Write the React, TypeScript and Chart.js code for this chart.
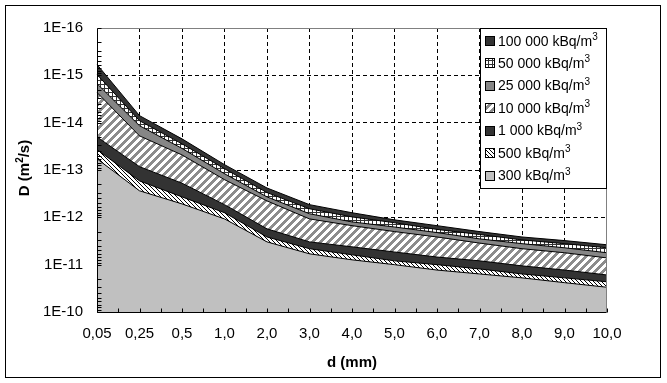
import React, { useEffect, useRef } from 'react';
import { Chart, registerables } from 'chart.js';

Chart.register(...registerables);

const CATEGORIES = ['0,05', '0,25', '0,5', '1,0', '2,0', '3,0', '4,0', '5,0', '6,0', '7,0', '8,0', '9,0', '10,0'];
const Y_TICKS = [1e-16, 1e-15, 1e-14, 1e-13, 1e-12, 1e-11, 1e-10];
const Y_TICK_LABELS = ['1E-16', '1E-15', '1E-14', '1E-13', '1E-12', '1E-11', '1E-10'];
const SERIES_NAMES = ['100 000', '50 000', '25 000', '10 000', '1 000', '500', '300'];
const UNIT = ' kBq/m';
const X_TITLE = 'd (mm)';

const D_100000 = [5.9e-16, 7.1e-15, 2.2e-14, 7.7e-14, 2.4e-13, 5.4e-13, 8.0e-13, 1.13e-12, 1.5e-12, 2.0e-12, 2.6e-12, 3.1e-12, 3.8e-12];
const D_50000 = [9.6e-16, 9.1e-15, 2.8e-14, 9.4e-14, 3.0e-13, 6.6e-13, 9.8e-13, 1.3e-12, 1.8e-12, 2.3e-12, 3.0e-12, 3.6e-12, 4.4e-12];
const D_25000 = [1.5e-15, 1.16e-14, 3.5e-14, 1.2e-13, 3.7e-13, 8.4e-13, 1.25e-12, 1.6e-12, 2.1e-12, 2.85e-12, 3.6e-12, 4.4e-12, 5.6e-12];
const D_10000 = [2.3e-15, 1.9e-14, 4.8e-14, 1.6e-13, 4.5e-13, 1.08e-12, 1.5e-12, 2.0e-12, 2.6e-12, 3.5e-12, 4.6e-12, 5.6e-12, 7.2e-12];
const D_1000 = [2.0e-14, 8.5e-14, 1.9e-13, 5.4e-13, 1.75e-12, 3.3e-12, 4.2e-12, 5.4e-12, 6.9e-12, 8.3e-12, 1.06e-11, 1.3e-11, 1.65e-11];
const D_500 = [3.7e-14, 1.7e-13, 3.7e-13, 8.0e-13, 2.6e-12, 4.6e-12, 6.2e-12, 8.3e-12, 1.0e-11, 1.23e-11, 1.57e-11, 1.9e-11, 2.3e-11];
const D_300 = [5.8e-14, 2.75e-13, 5.2e-13, 1.08e-12, 3.3e-12, 5.9e-12, 7.9e-12, 1.0e-11, 1.3e-11, 1.57e-11, 1.9e-11, 2.4e-11, 3.0e-11];

const FONT = '"Liberation Sans", Arial, sans-serif';

type Part = { t: string; sup?: boolean };

function drawRich(ctx: CanvasRenderingContext2D, parts: Part[], x: number, y: number, size: number, bold: boolean, align: 'left' | 'center') {
  const w = bold ? 'bold ' : '';
  const supSize = Math.round(size * 0.68);
  let total = 0;
  const widths = parts.map((p) => {
    ctx.font = `${w}${p.sup ? supSize : size}px ${FONT}`;
    const m = ctx.measureText(p.t).width;
    total += m;
    return m;
  });
  let cx = align === 'center' ? x - total / 2 : x;
  ctx.textAlign = 'left';
  ctx.textBaseline = 'alphabetic';
  parts.forEach((p, i) => {
    ctx.font = `${w}${p.sup ? supSize : size}px ${FONT}`;
    ctx.fillText(p.t, cx, p.sup ? y - size * 0.4 : y);
    cx += widths[i];
  });
}

function makeTile(w: number, h: number, bg: string, fn: (x: number, y: number) => string | null): CanvasPattern {
  const c = document.createElement('canvas');
  c.width = w;
  c.height = h;
  const g = c.getContext('2d')!;
  g.fillStyle = bg;
  g.fillRect(0, 0, w, h);
  for (let y = 0; y < h; y++) {
    for (let x = 0; x < w; x++) {
      const col = fn(x, y);
      if (col) {
        g.fillStyle = col;
        g.fillRect(x, y, 1, 1);
      }
    }
  }
  return g.createPattern(c, 'repeat')!;
}

export default function App() {
  const ref = useRef<HTMLCanvasElement>(null);

  useEffect(() => {
    const canvas = ref.current!;
    const dark = '#333333';
    const dotted = makeTile(4, 4, '#ffffff', (x, y) => (x === 0 || y === 0 ? dark : null));
    const wideUp = makeTile(8, 8, '#ffffff', (x, y) => ((x + y) % 8 < 4 ? '#8c8c8c' : null));
    const fineDown = makeTile(4, 4, '#ffffff', (x, y) => ((x - y + 8) % 4 === 0 ? '#000000' : null));

    // legend order (top to bottom)
    const fills: (string | CanvasPattern)[] = [dark, dotted, '#868686', wideUp, dark, fineDown, '#c0c0c0'];
    const seriesData = [D_100000, D_50000, D_25000, D_10000, D_1000, D_500, D_300];

    // drawing order: dataset 0 drawn on top -> smallest area first
    const datasets = seriesData
      .map((d, i) => ({
        label: SERIES_NAMES[i] + UNIT + '3',
        data: d,
        backgroundColor: fills[i] as any,
        borderColor: '#000000',
        borderWidth: 1,
        fill: 'start' as const,
        pointRadius: 0,
        tension: 0,
      }))
      .reverse();

    const decor = {
      id: 'decor',
      afterDatasetsDraw(chart: any) {
        const ctx: CanvasRenderingContext2D = chart.ctx;
        const { left, right, top, bottom } = chart.chartArea;
        const xs = chart.scales.x;
        const ys = chart.scales.y;
        const L = Math.round(left) + 0.5;
        const R = Math.round(right) - 0.5;
        const T = Math.round(top) + 0.5;
        const B = Math.round(bottom) + 0.5;
        ctx.save();
        ctx.lineWidth = 1;
        // plot border (top / right)
        ctx.strokeStyle = '#808080';
        ctx.beginPath();
        ctx.moveTo(L, T);
        ctx.lineTo(R, T);
        ctx.lineTo(R, B);
        ctx.stroke();
        // axes
        ctx.strokeStyle = '#000000';
        ctx.beginPath();
        ctx.moveTo(L, T);
        ctx.lineTo(L, B);
        ctx.lineTo(R, B);
        ctx.stroke();
        // y ticks (inside, log minor)
        ctx.beginPath();
        for (let n = -16; n <= -11; n++) {
          for (let k = 1; k <= 9; k++) {
            const v = k * Math.pow(10, n);
            const py = Math.round(ys.getPixelForValue(v)) + 0.5;
            ctx.moveTo(L, py);
            ctx.lineTo(L + 4, py);
          }
        }
        const pyEnd = Math.round(ys.getPixelForValue(1e-10)) + 0.5;
        ctx.moveTo(L, pyEnd);
        ctx.lineTo(L + 4, pyEnd);
        // x ticks (inside, also halfway)
        for (let i = 0; i < CATEGORIES.length; i++) {
          const px = xs.getPixelForValue(i);
          const a = Math.round(px) + 0.5;
          ctx.moveTo(a, B);
          ctx.lineTo(a, B - 4);
          if (i < CATEGORIES.length - 1) {
            const m = Math.round((px + xs.getPixelForValue(i + 1)) / 2) + 0.5;
            ctx.moveTo(m, B);
            ctx.lineTo(m, B - 4);
          }
        }
        ctx.stroke();
        ctx.restore();
      },
      afterDraw(chart: any) {
        const ctx: CanvasRenderingContext2D = chart.ctx;
        ctx.save();
        // legend
        const lx = 480.5, ly = 28.5, lw = 126, lh = 160;
        ctx.fillStyle = '#ffffff';
        ctx.fillRect(lx, ly, lw, lh);
        ctx.strokeStyle = '#000000';
        ctx.lineWidth = 1;
        ctx.strokeRect(lx, ly, lw, lh);
        for (let i = 0; i < SERIES_NAMES.length; i++) {
          const cy = 40.5 + i * 22.45;
          const sy = Math.round(cy - 4.5) + 0.5;
          ctx.fillStyle = fills[i] as any;
          ctx.fillRect(485.5, sy, 9, 9);
          ctx.strokeStyle = '#000000';
          ctx.strokeRect(485.5, sy, 9, 9);
          ctx.fillStyle = '#000000';
          drawRich(ctx, [{ t: SERIES_NAMES[i] + UNIT }, { t: '3', sup: true }], 498, cy + 5, 14, false, 'left');
        }
        // axis titles
        ctx.fillStyle = '#000000';
        drawRich(ctx, [{ t: X_TITLE }], 352, 367, 15, true, 'center');
        ctx.save();
        ctx.translate(29, 168);
        ctx.rotate(-Math.PI / 2);
        drawRich(ctx, [{ t: 'D (m' }, { t: '2', sup: true }, { t: '/s)' }], 0, 0, 15, true, 'center');
        ctx.restore();
        // outer frame
        ctx.strokeStyle = '#000000';
        ctx.lineWidth = 1;
        ctx.strokeRect(5.5, 5.5, 655, 372);
        ctx.restore();
      },
    };

    const chart = new Chart(canvas, {
      type: 'line',
      data: { labels: CATEGORIES, datasets: datasets as any },
      options: {
        responsive: false,
        animation: false,
        devicePixelRatio: 1,
        layout: { padding: { left: 0, top: 28, right: 60, bottom: 0 } },
        plugins: { legend: { display: false }, tooltip: { enabled: false }, title: { display: false } },
        scales: {
          x: {
            type: 'category',
            offset: false,
            grid: {
              drawTicks: false,
              lineWidth: 1,
              color: (c: any) => (c.index === 0 || c.index === CATEGORIES.length - 1 ? 'rgba(0,0,0,0)' : '#000000'),
            },
            border: { display: false, dash: [4, 3] },
            ticks: {
              color: '#000000',
              font: { size: 15, family: FONT },
              padding: 13,
              maxRotation: 0,
              minRotation: 0,
              autoSkip: false,
            },
            afterFit: (s: any) => {
              s.height = 71;
            },
          },
          y: {
            type: 'logarithmic',
            reverse: true,
            min: 1e-16,
            max: 1e-10,
            afterBuildTicks: (s: any) => {
              s.ticks = Y_TICKS.map((v) => ({ value: v }));
            },
            grid: {
              drawTicks: false,
              lineWidth: 1,
              color: (c: any) =>
                c.tick && (c.tick.value === Y_TICKS[0] || c.tick.value === Y_TICKS[Y_TICKS.length - 1]) ? 'rgba(0,0,0,0)' : '#000000',
            },
            border: { display: false, dash: [4, 3] },
            ticks: {
              color: '#000000',
              font: { size: 15, family: FONT },
              padding: 14,
              autoSkip: false,
              callback: (_v: any, i: number) => Y_TICK_LABELS[i],
            },
            afterFit: (s: any) => {
              s.width = 97;
            },
          },
        },
      },
      plugins: [decor],
    });
    return () => chart.destroy();
  }, []);

  return (
    <div style={{ position: 'fixed', left: 0, top: 0, width: 667, height: 383, background: '#ffffff' }}>
      <canvas ref={ref} width={667} height={383} style={{ display: 'block', width: 667, height: 383 }} />
    </div>
  );
}
